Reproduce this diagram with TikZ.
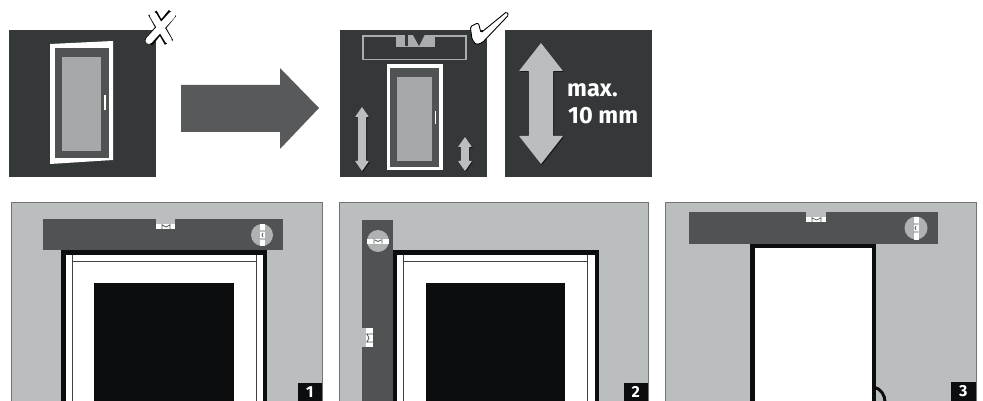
\documentclass[tikz,border=0pt]{standalone}
\usepackage{fontspec}
\setmainfont{Fira Sans}
\usepackage{tikz}
\usetikzlibrary{shadows}
\definecolor{panelbg}{HTML}{343838}
\definecolor{doorgrey}{HTML}{4F5353}
\definecolor{glassgrey}{HTML}{A5A9A9}
\definecolor{wallgrey}{HTML}{BABEBE}
\definecolor{arrowgrey}{HTML}{58595B}
\definecolor{inkblack}{HTML}{0C0D0F}

\begin{document}
\begin{tikzpicture}[
    x=1pt, y=-1pt,
    panel/.style={fill=panelbg},
    wall/.style={draw=black!55, line width=0.6pt, fill=wallgrey},
    level/.style={fill=doorgrey},
    bubbledisc/.style={fill=glassgrey!90!white},
    whitebit/.style={fill=white},
    tick/.style={draw=doorgrey, line width=0.7pt},
    frameline/.style={draw=black!75, line width=0.6pt},
    updown/.style={fill=wallgrey, rounded corners=0.6pt,
                   drop shadow={shadow xshift=1pt, shadow yshift=-1pt, opacity=0.55, fill=black}},
    tag/.style={fill=inkblack, text=white, font=\bfseries\fontsize{16}{16}\selectfont,
                inner sep=0pt, minimum width=24pt, minimum height=18pt, anchor=south east},
    bigtext/.style={text=white, font=\bfseries\fontsize{23.5}{24}\selectfont, inner sep=0pt, anchor=base west}
]
    \useasboundingbox (0,0) rectangle (983,401);

    % top row, wrong
    \fill[panel] (9,30) rectangle (156,177);
    \fill[white] (50,44) -- (113,41) -- (113,160) -- (50,164) -- cycle;
    \fill[doorgrey] (55,48) rectangle (109,158);
    \fill[glassgrey] (62,57) rectangle (101,151);
    \fill[white] (104,95) rectangle (106,110);
    \draw[black, line width=9.5pt] (152.5,13) -- (169,42.5) (172.5,13) -- (148.5,42.5);
    \draw[white, line width=7pt, line cap=round] (153,15) -- (168.5,40.5) (172,15) -- (149,40.5);

    \fill[arrowgrey] (181,85) -- (280,85) -- (280,68) -- (319,108) -- (280,149) -- (280,132) -- (181,132) -- cycle;

    % top row, right
    \fill[panel] (340,30) rectangle (487,177);
    \fill[panel] (505,30) rectangle (652,177);
    \draw[glassgrey!95!white, line width=1.6pt] (363,36) rectangle (466,59.5);
    \fill[glassgrey!95!white] (396,35) -- (435,35) -- (435,47) -- (396,47) -- cycle;
    \fill[panel] (405,35) rectangle (408,46);
    \fill[panel] (413,35) -- (424.5,35) -- (419,46) -- cycle;
    \fill[white] (387,64) rectangle (443,170);
    \fill[doorgrey] (390,68) rectangle (439,167);
    \fill[glassgrey] (397,77) rectangle (432,161);
    \fill[white] (434.5,111) rectangle (436,124);
    \filldraw[fill=white, draw=black, line width=0.9pt, rounded corners=1.5pt]
        (506.7,11.7) -- (508.7,15) -- (482.3,42.7) -- (476,44.7) -- (472,39.3)
        -- (470.3,26.7) -- (478.3,22.7) -- (481,32.7) -- cycle;

    \foreach \cx/\ya/\yb/\hw/\hl/\sw in {362/107/171/7/10/4, 465/137/171/7/10/4, 541/43/164/22/28/12}
        \path[updown] (\cx,\ya) -- (\cx+\hw,\ya+\hl) -- (\cx+\sw,\ya+\hl) -- (\cx+\sw,\yb-\hl)
            -- (\cx+\hw,\yb-\hl) -- (\cx,\yb) -- (\cx-\hw,\yb-\hl) -- (\cx-\sw,\yb-\hl)
            -- (\cx-\sw,\ya+\hl) -- (\cx-\hw,\ya+\hl) -- cycle;

    \node[bigtext] (maxlabel) at (567,97) {max.};
    \node[bigtext] (mmlabel) at (568,124) {10 mm};

    % photo 1
    \fill[wall] (11,202) rectangle (322,404);
    \fill[inkblack] (61,250) rectangle (267,404);
    \fill[white] (65.5,254.5) rectangle (262.5,404);
    \draw[frameline] (72,404) -- (72,254.5) (256,404) -- (256,254.5) (72,261) -- (256,261);
    \fill[inkblack] (94,283) rectangle (234,404);
    \fill[level] (43,219) rectangle (283,250);
    \fill[wallgrey] (156,219) rectangle (175,224);
    \fill[whitebit] (156,224) rectangle (175,229);
    \draw[tick] (162,224) -- (162,229) (170,224) -- (170,229) (162,225) -- (166,227) -- (170,225);
    \fill[bubbledisc] (262,235) circle (11);
    \fill[whitebit] (260,224) rectangle (265,246);
    \draw[tick] (260,231) -- (265,231) (260,239) -- (265,239) (263,233) -- (262,235) -- (263,237);
    \node[tag] (tagone) at (322,401) {\raisebox{-2pt}{1}};

    % photo 2
    \fill[wall] (339,202) rectangle (648,404);
    \fill[inkblack] (392,250) rectangle (599,404);
    \fill[white] (396.5,254.5) rectangle (594.5,404);
    \draw[frameline] (403,404) -- (403,254.5) (587,404) -- (587,254.5) (403,261) -- (587,261);
    \fill[inkblack] (426,283) rectangle (565,404);
    \fill[level] (362,220) rectangle (393,404);
    \fill[wallgrey] (362,328) rectangle (366,347);
    \fill[whitebit] (366,328) rectangle (373,347);
    \draw[tick] (366,334) -- (373,334) (366,342) -- (373,342) (367,334) -- (369,338) -- (367,342);
    \fill[bubbledisc] (378,241) circle (11);
    \fill[whitebit] (367,238.5) rectangle (389,243.5);
    \draw[tick] (374,238.5) -- (374,243.5) (382,238.5) -- (382,243.5) (375,240) -- (378,241.5) -- (381,240);
    \node[tag] (tagtwo) at (648,401) {\raisebox{-2pt}{2}};

    % photo 3
    \fill[wall] (665,202) rectangle (976,404);
    \fill[inkblack] (750,244) rectangle (876,404);
    \fill[white] (755,248) rectangle (872,404);
    \draw[inkblack, line width=3pt] (874,387) .. controls (881,389) and (885,395) .. (885,402);
    \fill[level] (689,212) rectangle (938,244);
    \fill[wallgrey] (806,212) rectangle (826,217);
    \fill[whitebit] (806,217) rectangle (826,222);
    \draw[tick] (812,217) -- (812,222) (821,217) -- (821,222) (812,218) -- (816.5,220) -- (821,218);
    \fill[bubbledisc] (916,228) circle (11.5);
    \fill[whitebit] (913.5,216.5) rectangle (918.5,239.5);
    \draw[tick] (913.5,224) -- (918.5,224) (913.5,232) -- (918.5,232) (916,226) -- (915,228) -- (916,230);
    \node[tag, minimum width=25pt, minimum height=19pt] (tagthree) at (976,401) {\raisebox{-2pt}{3}};
\end{tikzpicture}
\end{document}
